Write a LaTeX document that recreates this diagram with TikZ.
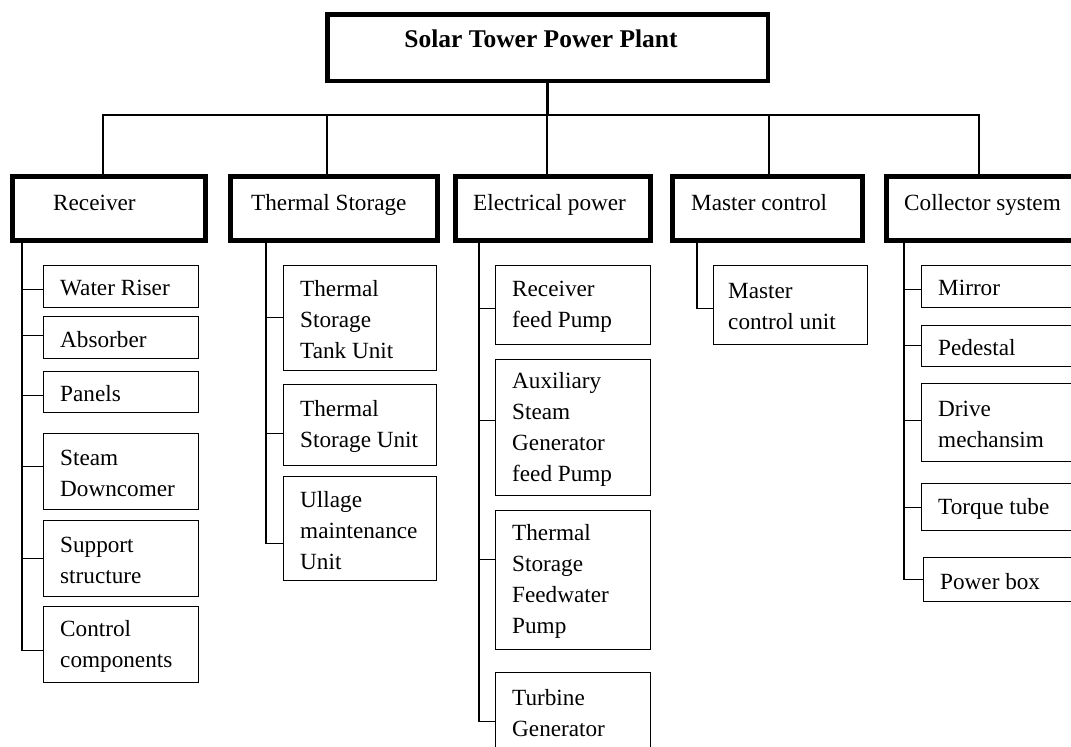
\documentclass[tikz,border=0pt]{standalone}
\usepackage{fontspec}
\setmainfont{Liberation Serif}

\tikzset{
  headbox/.style={draw, line width=4.5pt, inner sep=0pt},
  catbox/.style={draw, line width=5pt, inner sep=0pt},
  leafbox/.style={draw, line width=1.4pt, inner sep=0pt},
  bus/.style={line width=2.2pt},
  link/.style={line width=1.4pt},
  titletext/.style={anchor=base, inner sep=0pt, font=\bfseries\fontsize{25.5}{30}\selectfont},
  cattext/.style={anchor=base west, inner sep=0pt, font=\fontsize{23.2}{28}\selectfont},
  leaftext/.style={anchor=west, align=left, inner sep=0pt, font=\fontsize{23.2}{31}\selectfont},
}

% #1 name, #2 left x, #3 top y, #4 width, #5 height, #6 text,
% #7 vertical offset of the tick from the box centre, #8 trunk coordinate, #9 text indent
\newcommand\leafnode[9]{%
  \node[leafbox, minimum width=#4, minimum height=#5, anchor=north west] (#1) at (#2,#3) {};
  \node[leaftext] (#1-txt) at ([xshift=#9pt,yshift=-1.5pt]#1.west) {#6};
  \coordinate (#1-in) at ([yshift=#7pt]#1.west);
  \draw[link] (#1-in) -- (#1-in -| #8);
}

\begin{document}
\begin{tikzpicture}[x=1pt, y=-1pt]
  \useasboundingbox (0,0) rectangle (1071,747);
  \fill[white] (0,0) rectangle (1071,747);
  \clip (0,0) rectangle (1071,747);

  % root
  \node[headbox, minimum width=440.5, minimum height=66.5, anchor=north west] (top) at (325,12) {};
  \node[titletext] (top-txt) at (541,47) {Solar Tower Power Plant};

  % categories
  \node[catbox, minimum width=193, minimum height=64, anchor=north west] (rec) at (10,174) {};
  \node[catbox, minimum width=207, minimum height=64, anchor=north west] (ts)  at (228,174) {};
  \node[catbox, minimum width=195, minimum height=64, anchor=north west] (ep)  at (453,174) {};
  \node[catbox, minimum width=190, minimum height=64, anchor=north west] (mc)  at (670,174) {};
  \node[catbox, minimum width=231, minimum height=64, anchor=north west] (cs)  at (884,174) {};

  \node[cattext] (rec-txt) at (53,210)  {Receiver};
  \node[cattext] (ts-txt)  at (251,210) {Thermal Storage};
  \node[cattext] (ep-txt)  at (473,210) {Electrical power};
  \node[cattext] (mc-txt)  at (691,210) {Master control};
  \node[cattext] (cs-txt)  at (904,210) {Collector system};

  % bus between root and categories
  \coordinate (b1) at (103,115);
  \coordinate (b2) at (327,115);
  \coordinate (b3) at (547,115);
  \coordinate (b4) at (769,115);
  \coordinate (b5) at (979,115);
  \draw[bus] (rec.north -| b1) |- (b5) -- (b5 |- cs.north);
  \draw[bus] (top.south) -- (top.south |- b3);
  \draw[bus] (b2) -- (b2 |- ts.north);
  \draw[bus] (b3) -- (b3 |- ep.north);
  \draw[bus] (b4) -- (b4 |- mc.north);

  % trunks of the sub-lists
  \coordinate (tr1) at (22,0);
  \coordinate (tr2) at (266,0);
  \coordinate (tr3) at (479,0);
  \coordinate (tr4) at (697,0);
  \coordinate (tr5) at (904,0);

  % Receiver
  \leafnode{wr}{43}{265}{155}{42}{Water Riser}{-2.5}{tr1}{17}
  \leafnode{ab}{43}{316}{155}{42}{Absorber}{2.5}{tr1}{17}
  \leafnode{pa}{43}{371}{155}{41}{Panels}{-3}{tr1}{17}
  \leafnode{sd}{43}{433}{155}{76}{Steam\\Downcomer}{5.5}{tr1}{17}
  \leafnode{ss}{43}{520}{155}{76}{Support\\structure}{0}{tr1}{17}
  \leafnode{cc}{43}{606}{155}{76}{Control\\components}{-5.5}{tr1}{17}
  \draw[link] (rec.south -| tr1) |- (cc-in);

  % Thermal Storage
  \leafnode{tstu}{283}{265}{153}{105}{Thermal\\Storage\\Tank Unit}{1}{tr2}{17}
  \leafnode{tsu}{283}{384}{153}{81}{Thermal\\Storage Unit}{-8}{tr2}{17}
  \leafnode{ull}{283}{476}{153}{104}{Ullage\\maintenance\\Unit}{-14.5}{tr2}{17}
  \draw[link] (ts.south -| tr2) |- (ull-in);

  % Electrical power
  \leafnode{rfp}{495}{265}{155}{79}{Receiver\\feed Pump}{-3}{tr3}{17}
  \leafnode{asg}{495}{359}{155}{136}{Auxiliary\\Steam\\Generator\\feed Pump}{7.5}{tr3}{17}
  \leafnode{tsfp}{495}{510}{155}{139}{Thermal\\Storage\\Feedwater\\Pump}{21}{tr3}{17}
  \leafnode{tg}{495}{672}{155}{78}{Turbine\\Generator}{-10}{tr3}{17}
  \draw[link] (ep.south -| tr3) |- (tg-in);

  % Master control
  \leafnode{mcu}{713}{265}{154}{79}{Master\\control unit}{-3}{tr4}{15}
  \draw[link] (mc.south -| tr4) |- (mcu-in);

  % Collector system
  \leafnode{mi}{921}{265}{200}{42}{Mirror}{-2.5}{tr5}{17}
  \leafnode{pe}{921}{325}{200}{41}{Pedestal}{1}{tr5}{17}
  \leafnode{dm}{921}{383}{200}{78}{Drive\\mechansim}{2.5}{tr5}{17}
  \leafnode{tt}{921}{483}{200}{47}{Torque tube}{0}{tr5}{17}
  \leafnode{pb}{923}{557}{200}{44}{Power box}{0}{tr5}{17}
  \draw[link] (cs.south -| tr5) |- (pb-in);
\end{tikzpicture}
\end{document}
